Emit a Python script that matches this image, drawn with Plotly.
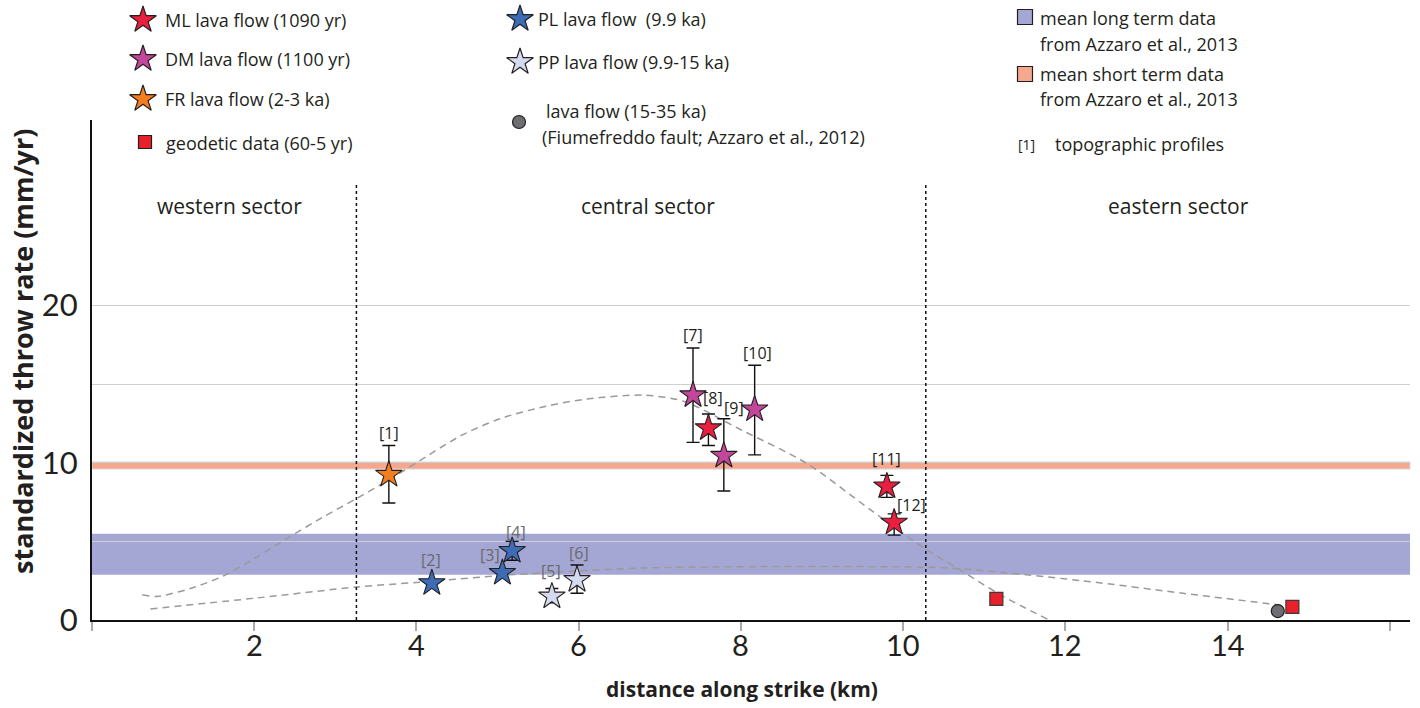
import plotly.graph_objects as go

# ---------------- data ----------------
ml_x = [7.60, 9.80, 9.89]
ml_y = [12.2, 8.5, 6.2]
ml_up = [0.9, 0.7, 0.55]
ml_dn = [1.1, 0.7, 0.8]

dm_x = [7.41, 7.79, 8.17]
dm_y = [14.3, 10.45, 13.4]
dm_up = [3.0, 2.35, 2.8]
dm_dn = [3.0, 2.25, 2.9]

fr_x = [3.66]
fr_y = [9.24]
fr_up = [1.86]
fr_dn = [1.8]

pl_x = [4.19, 5.06, 5.18]
pl_y = [2.35, 3.0, 4.4]
pl_up = [0.0, 0.0, 0.6]
pl_dn = [0.0, 0.0, 0.6]

pp_x = [5.67, 5.98]
pp_y = [1.5, 2.55]
pp_up = [0.5, 0.95]
pp_dn = [0.4, 0.85]

geo_x = [11.15, 14.80]
geo_y = [1.34, 0.83]

fiu_x = [14.62]
fiu_y = [0.57]

long_term_band = [2.87, 5.48]
short_term_band = [9.6, 10.05]
sector_bounds = [3.26, 10.28]
sector_names = ["western sector", "central sector", "eastern sector"]
sector_label_x = [1.7, 6.85, 13.4]

curve1_x = [0.62, 0.8, 1.21, 1.62, 2.03, 2.44, 2.85, 3.27, 3.67, 4.0, 4.54, 5.03, 5.6, 6.1, 6.8, 7.3, 8.0, 8.8, 9.6, 10.25, 10.7, 11.2, 11.8]
curve1_y = [1.6, 1.5, 2.0, 2.8, 4.0, 5.3, 6.55, 7.75, 8.95, 10.0, 11.7, 12.8, 13.6, 14.05, 14.3, 13.9, 12.1, 10.0, 7.0, 4.6, 3.2, 1.6, 0.0]
curve2_x = [0.72, 2.03, 3.27, 4.04, 5.15, 6.76, 8.4, 9.35, 10.58, 12.2, 13.45, 14.65]
curve2_y = [0.7, 1.4, 2.1, 2.4, 2.87, 3.3, 3.4, 3.4, 3.3, 2.5, 1.7, 0.95]

profile_labels = ["[1]", "[2]", "[3]", "[4]", "[5]", "[6]", "[7]", "[8]", "[9]", "[10]", "[11]", "[12]"]
profile_x = [3.66, 4.18, 4.91, 5.23, 5.66, 6.00, 7.41, 7.66, 7.92, 8.21, 9.80, 10.10]
profile_y = [11.9, 3.82, 4.14, 5.61, 3.12, 4.27, 18.15, 14.14, 13.5, 17.0, 10.25, 7.32]
profile_grey = [False, True, True, True, True, True, False, False, False, False, False, False]

x_ticks = [0, 2, 4, 6, 8, 10, 12, 14, 16]
x_ticktext = ["", "2", "4", "6", "8", "10", "12", "14", ""]
y_ticks = [0, 5, 10, 15, 20]
y_ticktext = ["0", "", "10", "", "20"]

# ---------------- styles ----------------
C_ML = "#ea1f40"
C_DM = "#c2479b"
C_FR = "#f47d20"
C_PL = "#3d6cb4"
C_PP = "#d5dbef"
C_GEO = "#e8202a"
C_FIU = "#6d6e71"
C_LONG = "#a4a6d4"
C_SHORT = "#f6a88f"
FONT = "Open Sans, Lato, sans-serif"
TICKFONT = "Lato, Open Sans, sans-serif"
INK = "#231f20"

W, H = 1420, 708
L, R, T, B = 92, 10, 0, 88
PLOT_TOP = 120   # pixel where main axes start
LEG_BOTTOM = 165  # legend helper axis extends down to this pixel
ydom_top = (H - B - PLOT_TOP) / (H - B)
leg_dom_bottom = (H - B - LEG_BOTTOM) / (H - B)


def paper_y(py):
    return (H - B - py) / (H - B)


fig = go.Figure()

# dashed curves
for cx, cy in [(curve1_x, curve1_y), (curve2_x, curve2_y)]:
    fig.add_trace(go.Scatter(x=cx, y=cy, mode="lines",
                             line=dict(color="#9a9a9a", width=1.5, dash="7px,5px", shape="spline", smoothing=0.8),
                             hoverinfo="skip", showlegend=False))


def star_trace(x, y, up, dn, color):
    return go.Scatter(
        x=x, y=y, mode="markers",
        marker=dict(symbol="star", size=20, color=color, line=dict(color=INK, width=1.1)),
        error_y=dict(type="data", symmetric=False, array=up, arrayminus=dn, color="#111111", thickness=1.4, width=6.5),
        showlegend=False,
    )


fig.add_trace(star_trace(fr_x, fr_y, fr_up, fr_dn, C_FR))
fig.add_trace(star_trace(pl_x, pl_y, pl_up, pl_dn, C_PL))
fig.add_trace(star_trace(pp_x, pp_y, pp_up, pp_dn, C_PP))
fig.add_trace(star_trace(dm_x, dm_y, dm_up, dm_dn, C_DM))
fig.add_trace(star_trace(ml_x, ml_y, ml_up, ml_dn, C_ML))

fig.add_trace(go.Scatter(x=geo_x, y=geo_y, mode="markers",
                         marker=dict(symbol="square", size=13, color=C_GEO, line=dict(color="#3a3a3a", width=1.2)),
                         showlegend=False))
fig.add_trace(go.Scatter(x=fiu_x, y=fiu_y, mode="markers",
                         marker=dict(symbol="circle", size=13, color=C_FIU, line=dict(color=INK, width=1.2)),
                         showlegend=False))

# bands
fig.add_shape(type="rect", xref="x domain", yref="y", x0=0, x1=1, y0=long_term_band[0], y1=long_term_band[1],
              fillcolor=C_LONG, line=dict(width=0), layer="below")
fig.add_shape(type="rect", xref="x domain", yref="y", x0=0, x1=1, y0=short_term_band[0], y1=short_term_band[1],
              fillcolor=C_SHORT, line=dict(color="#d8d8d8", width=1), layer="below")

# sector boundaries
for sb in sector_bounds:
    fig.add_shape(type="line", xref="x", yref="y", x0=sb, x1=sb, y0=0, y1=27.7,
                  line=dict(color="#111111", width=1.5, dash="dot"), layer="above")

for name, sx in zip(sector_names, sector_label_x):
    fig.add_annotation(x=sx, y=26.3, xref="x", yref="y", text=name, showarrow=False,
                       xanchor="center", yanchor="middle",
                       font=dict(family=FONT, size=21, color=INK))

for lab, lx, ly, g in zip(profile_labels, profile_x, profile_y, profile_grey):
    fig.add_annotation(x=lx, y=ly, xref="x", yref="y", text=lab, showarrow=False,
                       xanchor="center", yanchor="middle",
                       font=dict(family=FONT, size=16, color="#6a6a6a" if g else INK))

# x tick labels (placed under the axis ticks)
for tv, tt in zip(x_ticks, x_ticktext):
    if tt:
        fig.add_annotation(x=tv, y=paper_y(644), xref="x", yref="paper", text=tt, showarrow=False,
                           xanchor="center", yanchor="middle",
                           font=dict(family=TICKFONT, size=29, color=INK))

# ---------------- legend (pixel coordinates on an auxiliary axis) ----------------
leg_markers = [
    (143, 20, "star", 20, C_ML),
    (143, 59, "star", 20, C_DM),
    (143, 99, "star", 20, C_FR),
    (145, 142, "square", 13, C_GEO),
    (520, 19, "star", 20, C_PL),
    (520, 62, "star", 20, C_PP),
    (519, 122, "circle", 13, C_FIU),
    (1025, 17, "square", 15, C_LONG),
    (1025, 74, "square", 15, C_SHORT),
]
for mx, my, sym, sz, col in leg_markers:
    fig.add_trace(go.Scatter(x=[mx], y=[my], xaxis="x2", yaxis="y2", mode="markers",
                             marker=dict(symbol=sym, size=sz, color=col, line=dict(color=INK, width=1.2)),
                             showlegend=False, hoverinfo="skip", cliponaxis=False))

leg_texts = [
    (163, 20, "ML lava flow (1090 yr)"),
    (163, 59, "DM lava flow (1100 yr)"),
    (163, 99, "FR lava flow (2-3 ka)"),
    (164, 143, "geodetic data (60-5 yr)"),
    (536, 19, "PL lava flow  (9.9 ka)"),
    (536, 62, "PP lava flow (9.9-15 ka)"),
    (544, 111, "lava flow (15-35 ka)"),
    (540, 137, "(Fiumefreddo fault; Azzaro et al., 2012)"),
    (1038, 18, "mean long term data"),
    (1038, 44, "from Azzaro et al., 2013"),
    (1038, 74, "mean short term data"),
    (1038, 99, "from Azzaro et al., 2013"),
    (1016, 144, "[1]"),
    (1053, 144, "topographic profiles"),
]
for tx, ty, txt in leg_texts:
    fig.add_annotation(x=tx, y=ty, xref="x2", yref="y2", text=txt, showarrow=False, xanchor="left", yanchor="middle",
                       font=dict(family=FONT, size=18 if txt != "[1]" else 14, color=INK))

# axis titles
fig.add_annotation(x=(742 - L) / (W - L - R), y=paper_y(689), xref="paper", yref="paper",
                   text="<b>distance along strike (km)</b>", showarrow=False, xanchor="center", yanchor="middle",
                   font=dict(family=FONT, size=21, color=INK))
fig.add_annotation(x=(22 - L) / (W - L - R), y=paper_y(352), xref="paper", yref="paper",
                   text="<b>standardized throw rate (mm/yr)</b>", showarrow=False, textangle=-90,
                   xanchor="center", yanchor="middle",
                   font=dict(family=FONT, size=27, color=INK))

fig.update_layout(
    width=W, height=H,
    margin=dict(l=L, r=R, t=T, b=B),
    paper_bgcolor="white", plot_bgcolor="rgba(0,0,0,0)",
    showlegend=False,
    xaxis=dict(range=[0, 16.25], tickvals=x_ticks, showticklabels=False, showgrid=False, zeroline=False,
               showline=True, linecolor="#111111", linewidth=2, ticks="outside", ticklen=9, tickwidth=1.5,
               tickcolor="#aaaaaa", anchor="y"),
    yaxis=dict(range=[0, 31.8], domain=[0, ydom_top], tickvals=y_ticks, ticktext=y_ticktext, showgrid=True,
               gridcolor="#cfcfcf", gridwidth=1, zeroline=False, showline=True, linecolor="#111111", linewidth=2,
               ticks="", tickfont=dict(family=TICKFONT, size=31, color=INK), anchor="x", ticklabelstandoff=6),
    xaxis2=dict(range=[L, W - R], domain=[0, 1], anchor="y2", visible=False, fixedrange=True),
    yaxis2=dict(range=[LEG_BOTTOM, 0], domain=[leg_dom_bottom, 1], anchor="x2", visible=False, fixedrange=True),
)

fig.write_html("out.html")
